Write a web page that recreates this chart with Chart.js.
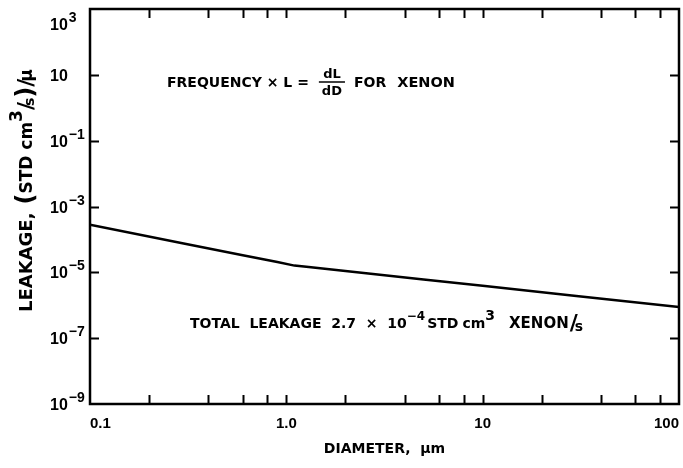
<!DOCTYPE html>
<html><head><meta charset="utf-8">
<script src="https://cdn.jsdelivr.net/npm/chart.js@4"></script>
<style>html,body{margin:0;padding:0;background:#fff}#wrap{width:683px;height:468px;position:relative}</style>
</head><body><div id="wrap"><canvas id="c"></canvas></div>
<script>
// ---- data ----
const diameters = [0.1, 0.3, 0.6, 0.9, 1.1, 1.3, 2, 5, 10, 30, 100];          // µm
const leakage   = [2.8e-4, 7.5e-5, 3.3e-5, 2.05e-5, 1.6e-5, 1.45e-5, 1.1e-5, 6.1e-6, 3.9e-6, 1.9e-6, 8.9e-7];
const xTickValues = [0.1, 1, 10, 100];
const xTickLabels = ['0.1', '1.0', '10', '100'];
const xTickMarks  = [0.2, 0.4, 0.6, 0.8, 1, 2, 4, 6, 8, 10, 20, 40, 60, 80];
const yTickValues = [1e-9, 1e-7, 1e-5, 1e-3, 1e-1, 10, 1e3];
const yTickBases  = ['10', '10', '10', '10', '10', '10', '10'];
const yTickExps   = ['−9', '−7', '−5', '−3', '−1', '', '3'];
const yTickMarks  = [1e-7, 1e-5, 1e-3, 1e-1, 10];

const FONT = '"DejaVu Sans", sans-serif';
const NUMFONT = '"Liberation Sans", Arial, sans-serif';

function runs(ctx, x, y, parts, fam) {
  let cx = x;
  for (const p of parts) {
    ctx.font = `bold ${p.size}px ${p.fam || fam || FONT}`;
    cx += (p.pre || 0);
    ctx.fillText(p.t, cx, y + (p.dy || 0));
    cx += ctx.measureText(p.t).width + (p.gap || 0);
  }
  return cx;
}

const decor = {
  id: 'decor',
  afterDraw(chart) {
    const {ctx, chartArea: a, scales: {x, y}} = chart;
    ctx.save();
    ctx.strokeStyle = '#000';
    ctx.fillStyle = '#000';
    ctx.lineWidth = 2.5;
    ctx.strokeRect(a.left, a.top, a.right - a.left, a.bottom - a.top);
    ctx.lineWidth = 2;
    const tl = 9;
    ctx.beginPath();
    for (const v of xTickMarks) {
      const px = Math.round(x.getPixelForValue(v)) + 0.5;
      ctx.moveTo(px, a.bottom); ctx.lineTo(px, a.bottom - tl);
      ctx.moveTo(px, a.top); ctx.lineTo(px, a.top + tl);
    }
    for (const v of yTickMarks) {
      const py = Math.round(y.getPixelForValue(v)) + 0.5;
      ctx.moveTo(a.left, py); ctx.lineTo(a.left + tl, py);
      ctx.moveTo(a.right, py); ctx.lineTo(a.right - tl, py);
    }
    ctx.stroke();

    ctx.textBaseline = 'alphabetic';
    ctx.textAlign = 'left';
    // y tick labels with real superscripts, placed by the y scale
    y.ticks.forEach((t, i) => {
      const py = y.getPixelForValue(t.value);
      const base = Math.max(py + 6, a.top + 21);
      runs(ctx, y.left, base, [
        {t: yTickBases[i], size: 16, gap: 1},
        {t: yTickExps[i], size: 14, dy: -8}
      ], NUMFONT);
    });

    // annotation 1
    const bx = a.left + 77, by = a.top + 78;
    let cx = runs(ctx, bx, by, [{t: 'FREQUENCY × L =', size: 14}]);
    cx += 10;
    ctx.font = `bold 13px ${FONT}`;
    const w1 = ctx.measureText('dL').width, w2 = ctx.measureText('dD').width;
    const fw = Math.max(w1, w2) + 6;
    ctx.fillText('dL', cx + (fw - w1) / 2, by - 9);
    ctx.fillText('dD', cx + (fw - w2) / 2, by + 8);
    ctx.lineWidth = 1.5;
    ctx.beginPath(); ctx.moveTo(cx, by - 5); ctx.lineTo(cx + fw, by - 5); ctx.stroke();
    runs(ctx, cx + fw + 9, by, [{t: 'FOR', size: 14}, {t: 'XENON', size: 14.5, pre: 11}]);

    // annotation 2
    const tx = a.left + 100, ty = a.top + 319;
    runs(ctx, tx, ty, [
      {t: 'TOTAL  LEAKAGE  2.7  ×  10', size: 14},
      {t: '−4', size: 12, dy: -8, pre: 0},
      {t: 'STD', size: 14, pre: 2},
      {t: 'cm', size: 14, pre: 4},
      {t: '3', size: 14, dy: -8},
      {t: 'XENON', size: 15, pre: 14},
      {t: '/', size: 22, dy: 2, pre: 1},
      {t: 's', size: 14, dy: 3, pre: -3}
    ]);

    // y axis title (rotated)
    ctx.save();
    ctx.translate(32, 312);
    ctx.rotate(-Math.PI / 2);
    runs(ctx, 0, 0, [
      {t: 'LEAKAGE,', size: 18, gap: 8},
      {t: '(', size: 24, dy: 1},
      {t: 'STD cm', size: 17},
      {t: '3', size: 17, dy: -10},
      {t: '/', size: 22, dy: 1},
      {t: 's', size: 14, dy: 2, pre: -4},
      {t: ')', size: 24, dy: 1},
      {t: '/', size: 22, dy: 1},
      {t: 'μ', size: 17, pre: -3}
    ]);
    ctx.restore();
    ctx.restore();
  }
};

new Chart(document.getElementById('c'), {
  type: 'line',
  data: {
    datasets: [{
      data: diameters.map((d, i) => ({x: d, y: leakage[i]})),
      borderColor: '#000',
      borderWidth: 2.5,
      pointRadius: 0,
      tension: 0,
      fill: false
    }]
  },
  options: {
    responsive: true,
    maintainAspectRatio: false,
    animation: false,
    events: [],
    layout: {padding: {top: 9, right: 4, left: 50, bottom: 0}},
    plugins: {legend: {display: false}, tooltip: {enabled: false}},
    scales: {
      x: {
        type: 'logarithmic',
        min: 0.1, max: 100,
        grid: {display: false, drawTicks: false},
        border: {display: false},
        afterBuildTicks: s => { s.ticks = xTickValues.map(v => ({value: v})); },
        afterFit: s => { s.height = 64; s.paddingLeft = 0; s.paddingRight = 0; },
        ticks: {
          autoSkip: false, maxRotation: 0, align: 'inner', padding: 11,
          color: '#000', font: {family: NUMFONT, size: 15, weight: 'bold'},
          callback: (v, i) => xTickLabels[i]
        },
        title: {display: true, text: 'DIAMETER,  μm', color: '#000',
          font: {family: FONT, size: 14, weight: 'bold'}, padding: {top: 0, bottom: 10}}
      },
      y: {
        type: 'logarithmic',
        min: 1e-9, max: 1e3,
        grid: {display: false, drawTicks: false},
        border: {display: false},
        afterBuildTicks: s => { s.ticks = yTickValues.map(v => ({value: v})); },
        afterFit: s => { s.width = 40; s.paddingTop = 0; s.paddingBottom = 0; },
        ticks: {display: false}
      }
    }
  },
  plugins: [decor]
});
</script></body></html>
